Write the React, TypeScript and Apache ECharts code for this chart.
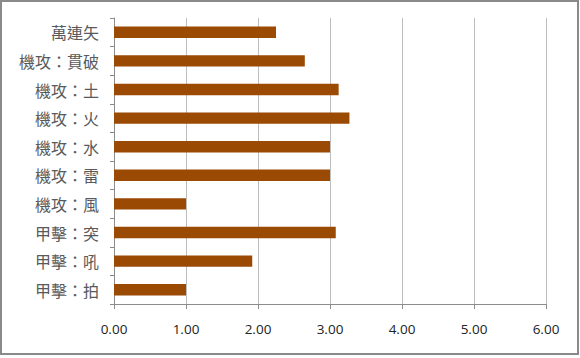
import React, { useEffect, useRef } from "react";
import * as echarts from "echarts";

const categories = ["萬連矢", "機攻：貫破", "機攻：土", "機攻：火", "機攻：水", "機攻：雷", "機攻：風", "甲擊：突", "甲擊：吼", "甲擊：拍"];
const values = [2.25, 2.65, 3.12, 3.27, 3.0, 3.0, 1.0, 3.08, 1.92, 1.0];
const xMin = 0;
const xMax = 6;
const xStep = 1;

export default function App() {
  const ref = useRef<HTMLDivElement>(null);
  useEffect(() => {
    if (!ref.current) return;
    const chart = echarts.init(ref.current, null, { renderer: "svg" });
    chart.setOption({
      animation: false,
      backgroundColor: "#ffffff",
      graphic: [
        {
          type: "rect",
          shape: { x: 1, y: 1, width: 577, height: 353 },
          style: { fill: "none", stroke: "#8a8a8a", lineWidth: 2 },
          silent: true,
        },
      ],
      grid: { left: 114, right: 34, top: 18, bottom: 54, containLabel: false },
      xAxis: {
        type: "value",
        min: xMin,
        max: xMax,
        interval: xStep,
        axisLine: { show: true, lineStyle: { color: "#8c8c8c", width: 1 } },
        axisTick: { show: true, length: 5, lineStyle: { color: "#8c8c8c" } },
        splitLine: { show: true, lineStyle: { color: "#bdbdbd", width: 1 } },
        axisLabel: {
          formatter: (v: number) => v.toFixed(2),
          color: "#222",
          fontSize: 13.5,
          fontFamily: "'Open Sans', 'Noto Sans', sans-serif",
          margin: 18,
        },
      },
      yAxis: {
        type: "category",
        data: categories,
        inverse: true,
        axisLine: { show: true, lineStyle: { color: "#8c8c8c", width: 1 } },
        axisTick: { show: true, length: 4, lineStyle: { color: "#8c8c8c" } },
        splitLine: { show: false },
        axisLabel: {
          color: "#5a5a5a",
          fontSize: 16,
          fontFamily: "'Noto Sans CJK TC', sans-serif",
          margin: 15,
        },
      },
      series: [
        {
          type: "bar",
          data: values,
          barWidth: "40%",
          itemStyle: { color: "#9b4a04" },
        },
      ],
    });
    return () => chart.dispose();
  }, []);
  return (
    <div
      ref={ref}
      style={{ position: "fixed", left: 0, top: 0, width: 580, height: 358 }}
    />
  );
}
